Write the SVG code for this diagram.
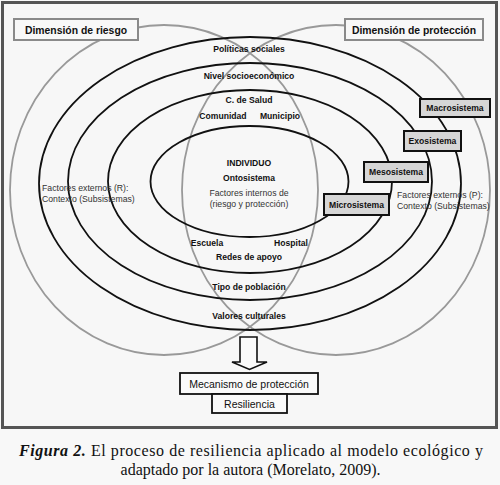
<svg xmlns="http://www.w3.org/2000/svg" width="500" height="485" viewBox="0 0 500 485">
<style>
.ring{fill:none;stroke:#111;stroke-width:1.8}
.dim{fill:none;stroke:#999;stroke-width:1.8}
.b{font-family:"Liberation Sans",Arial,sans-serif;font-weight:bold;font-size:8.6px;fill:#111;text-anchor:middle}
.n{font-family:"Liberation Sans",Arial,sans-serif;font-size:8.7px;fill:#333}
.sys{fill:#d6d6d6;stroke:#111;stroke-width:2}
.dimbox{fill:#f8f8f8;stroke:#8a8a8a;stroke-width:2}
.dt{font-family:"Liberation Sans",Arial,sans-serif;font-weight:bold;font-size:10.4px;fill:#111;text-anchor:middle}
.out{fill:#fafafa;stroke:#111;stroke-width:1.8}
.ot{font-family:"Liberation Sans",Arial,sans-serif;font-size:10.5px;fill:#111;text-anchor:middle}
.cap{font-family:"Liberation Serif","Times New Roman",serif;font-size:16px;fill:#111}
</style>
<rect x="0" y="0" width="500" height="485" fill="#f8f8f8"/>
<rect x="2.5" y="2.5" width="494" height="425" fill="#f7f7f7" stroke="#555" stroke-width="3"/>
<g id="dimension-ellipses">
<ellipse class="dim" cx="164" cy="190" rx="154" ry="165"/>
<ellipse class="dim" cx="336" cy="190" rx="154" ry="165"/>
</g>
<g id="rings">
<ellipse class="ring" cx="250" cy="183.5" rx="211" ry="146.5"/>
<ellipse class="ring" cx="250" cy="181.5" rx="182" ry="118.5"/>
<ellipse class="ring" cx="250" cy="181.5" rx="142" ry="91.5"/>
<ellipse class="ring" cx="249.5" cy="181.5" rx="99" ry="55.5"/>
</g>
<g id="ring-labels">
<text class="b" x="249" y="52">Políticas sociales</text>
<text class="b" x="249" y="79">Nivel socioeconómico</text>
<text class="b" x="249" y="103">C. de Salud</text>
<text class="b" x="223" y="119">Comunidad</text>
<text class="b" x="280" y="119">Municipio</text>
<text class="b" x="207" y="246">Escuela</text>
<text class="b" x="291" y="246">Hospital</text>
<text class="b" x="249" y="260">Redes de apoyo</text>
<text class="b" x="249" y="290">Tipo de población</text>
<text class="b" x="249" y="319">Valores culturales</text>
</g>
<g id="individuo">
<text class="b" x="249" y="165.5">INDIVIDUO</text>
<text class="b" x="249" y="181">Ontosistema</text>
<text class="n" x="249" y="196" text-anchor="middle">Factores internos de</text>
<text class="n" x="249" y="206.5" text-anchor="middle">(riesgo y protección)</text>
</g>
<g id="factores-riesgo">
<text class="n" x="42" y="191">Factores externos (R):</text>
<text class="n" x="42" y="201.5">Contexto (Subsistemas)</text>
</g>
<g id="factores-proteccion">
<text class="n" x="397" y="197.5">Factores externos (P):</text>
<text class="n" x="397" y="209">Contexto (Subsistemas)</text>
</g>
<g id="dim-riesgo">
<rect class="dimbox" x="14" y="19" width="124" height="21"/>
<text class="dt" x="76" y="33.5">Dimensión de riesgo</text>
</g>
<g id="dim-proteccion">
<rect class="dimbox" x="345" y="19" width="138" height="21"/>
<text class="dt" x="414" y="33.5">Dimensión de protección</text>
</g>
<g id="macrosistema">
<rect class="sys" x="420" y="99" width="70" height="18"/>
<text class="b" x="455" y="111">Macrosistema</text>
</g>
<g id="exosistema">
<rect class="sys" x="404" y="131" width="57" height="20"/>
<text class="b" x="432.5" y="144">Exosistema</text>
</g>
<g id="mesosistema">
<rect class="sys" x="364" y="162" width="64" height="20"/>
<text class="b" x="396" y="175">Mesosistema</text>
</g>
<g id="microsistema">
<rect class="sys" x="324" y="194" width="65" height="21"/>
<text class="b" x="356.5" y="207.5">Microsistema</text>
</g>
<g id="connectors">
<polygon points="240,337 257,337 257,362 267,362 249.5,369.5 232,362 240,362" fill="#fafafa" stroke="#111" stroke-width="1.6" stroke-linejoin="miter"/>
</g>
<g id="mecanismo">
<rect class="out" x="180" y="373" width="138" height="21"/>
<text class="ot" x="249" y="387.5">Mecanismo de protección</text>
</g>
<g id="resiliencia">
<rect class="out" x="212" y="394" width="75" height="19"/>
<text class="ot" x="249.5" y="407.5">Resiliencia</text>
</g>
<g id="caption">
<text class="cap" x="19" y="456" textLength="464" lengthAdjust="spacing"><tspan font-weight="bold" font-style="italic">Figura 2.</tspan> El proceso de resiliencia aplicado al modelo ecológico y</text>
<text class="cap" x="250.5" y="475" text-anchor="middle" font-size="15.4">adaptado por la autora (Morelato, 2009).</text>
</g>
</svg>
